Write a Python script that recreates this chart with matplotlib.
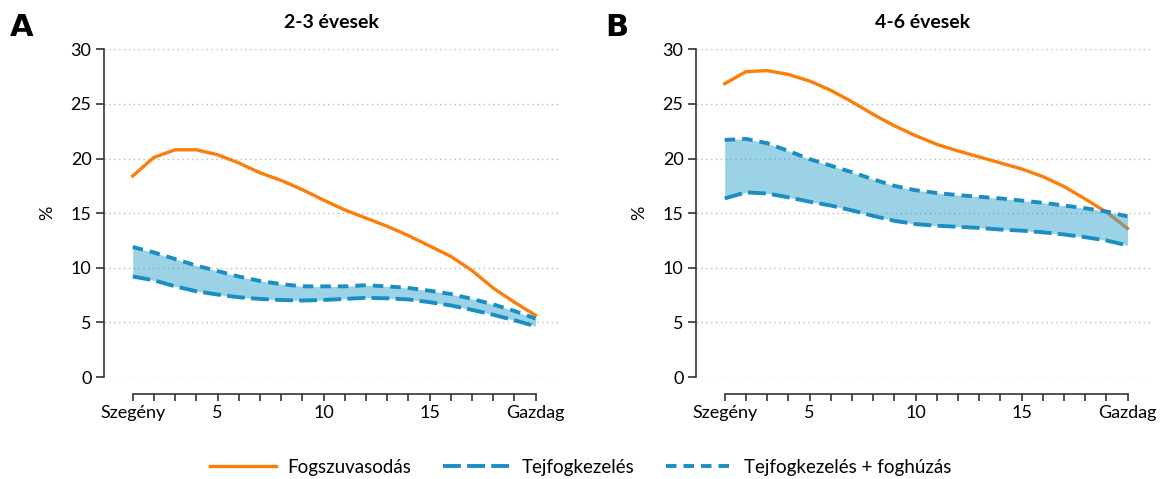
import matplotlib
matplotlib.use("Agg")
import matplotlib.pyplot as plt
from matplotlib.ticker import FixedLocator

plt.rcParams['font.family'] = ['Lato', 'DejaVu Sans']

x = list(range(1, 21))
xtick_pos = [1, 5, 10, 15, 20]
xtick_labels = ['Szegény', '5', '10', '15', 'Gazdag']
yticks = [0, 5, 10, 15, 20, 25, 30]
titles = ['2-3 évesek', '4-6 évesek']
panel_letters = ['A', 'B']
series_names = ['Fogszuvasodás', 'Tejfogkezelés', 'Tejfogkezelés + foghúzás']

caries_a = [18.4, 20.1, 20.8, 20.8, 20.35, 19.6, 18.7, 18.0, 17.15, 16.2,
            15.3, 14.55, 13.8, 12.95, 12.0, 11.05, 9.75, 8.15, 6.85, 5.65]
treat_a = [9.2, 8.85, 8.3, 7.85, 7.55, 7.3, 7.15, 7.05, 7.0, 7.05,
           7.15, 7.25, 7.2, 7.1, 6.85, 6.55, 6.15, 5.7, 5.2, 4.65]
treat_ext_a = [11.9, 11.4, 10.8, 10.2, 9.7, 9.2, 8.8, 8.5, 8.3, 8.3,
               8.3, 8.4, 8.3, 8.15, 7.9, 7.6, 7.15, 6.65, 6.05, 5.35]

caries_b = [26.85, 27.95, 28.05, 27.7, 27.1, 26.25, 25.2, 24.05, 23.0, 22.1,
            21.3, 20.7, 20.15, 19.6, 19.05, 18.35, 17.45, 16.3, 15.1, 13.6]
treat_b = [16.35, 16.9, 16.8, 16.45, 16.05, 15.7, 15.25, 14.75, 14.3, 14.0,
           13.85, 13.75, 13.65, 13.5, 13.4, 13.25, 13.05, 12.8, 12.5, 12.05]
treat_ext_b = [21.7, 21.8, 21.4, 20.7, 19.95, 19.35, 18.75, 18.1, 17.5, 17.1,
               16.85, 16.65, 16.5, 16.35, 16.15, 15.95, 15.7, 15.45, 15.15, 14.7]

panels = [(caries_a, treat_a, treat_ext_a), (caries_b, treat_b, treat_ext_b)]

ORANGE = '#FA7E0C'
BLUE = '#1A8EC2'
FILL = '#3AA6CC'
AXC = '#333333'

W, H = 1161, 479
fig = plt.figure(figsize=(W / 100, H / 100), dpi=100)

lefts_px = [104, 696]
width_px = 454
px_per_unit = 21.2
x0 = 1 - 28.7 / px_per_unit
x1 = x0 + width_px / px_per_unit
bottom = 1 - 377 / H
height = (377 - 49.3) / H

handles = None
for i, (car, tr, tre) in enumerate(panels):
    ax = fig.add_axes([lefts_px[i] / W, bottom, width_px / W, height])
    l1, = ax.plot(x, car, color=ORANGE, lw=2.4, zorder=2)
    ax.fill_between(x, tr, tre, color=FILL, alpha=0.5, lw=0, zorder=3)
    l2, = ax.plot(x, tr, color=BLUE, lw=2.8, zorder=4, dashes=(4.6, 1.6))
    l3, = ax.plot(x, tre, color=BLUE, lw=2.8, zorder=4, dashes=(2.7, 1.8))
    handles = [l1, l2, l3]

    ax.set_xlim(x0, x1)
    ax.set_ylim(0, 30)
    ax.set_yticks(yticks)
    ax.grid(axis='y', color='#BBBBBB', ls=(0, (1, 2.5)), lw=1.0, zorder=0)
    for s in ['top', 'right']:
        ax.spines[s].set_visible(False)
    ax.spines['left'].set_bounds(0, 30)
    ax.spines['bottom'].set_bounds(1, 20)
    ax.spines['bottom'].set_position(('outward', 12))
    for s in ['left', 'bottom']:
        ax.spines[s].set_color(AXC)
        ax.spines[s].set_linewidth(1.2)
    ax.xaxis.set_major_locator(FixedLocator(xtick_pos))
    ax.set_xticklabels(xtick_labels)
    ax.xaxis.set_minor_locator(FixedLocator(x))
    ax.tick_params(axis='x', which='both', direction='out', length=5, width=1.2,
                   color=AXC, labelsize=13, pad=3)
    ax.tick_params(axis='y', direction='out', length=6, width=1.2, color=AXC,
                   labelsize=13, pad=3)
    ax.set_ylabel('%', fontsize=13)
    ax.yaxis.set_label_coords(-0.108, 0.5)
    ax.set_title(titles[i], fontsize=14, fontweight='bold', pad=15)

fig.text(22 / W, 1 - 28 / H, panel_letters[0], ha='center', va='center',
         fontsize=22, fontweight='heavy', family='DejaVu Sans')
fig.text(617 / W, 1 - 28 / H, panel_letters[1], ha='center', va='center',
         fontsize=22, fontweight='heavy', family='DejaVu Sans')

fig.legend(handles, series_names, loc='center', bbox_to_anchor=(0.5, 1 - 467 / H),
           ncol=3, frameon=False, fontsize=13.5, handlelength=3.55,
           handletextpad=0.6, columnspacing=1.7)

fig.savefig('out.png', dpi=100)
